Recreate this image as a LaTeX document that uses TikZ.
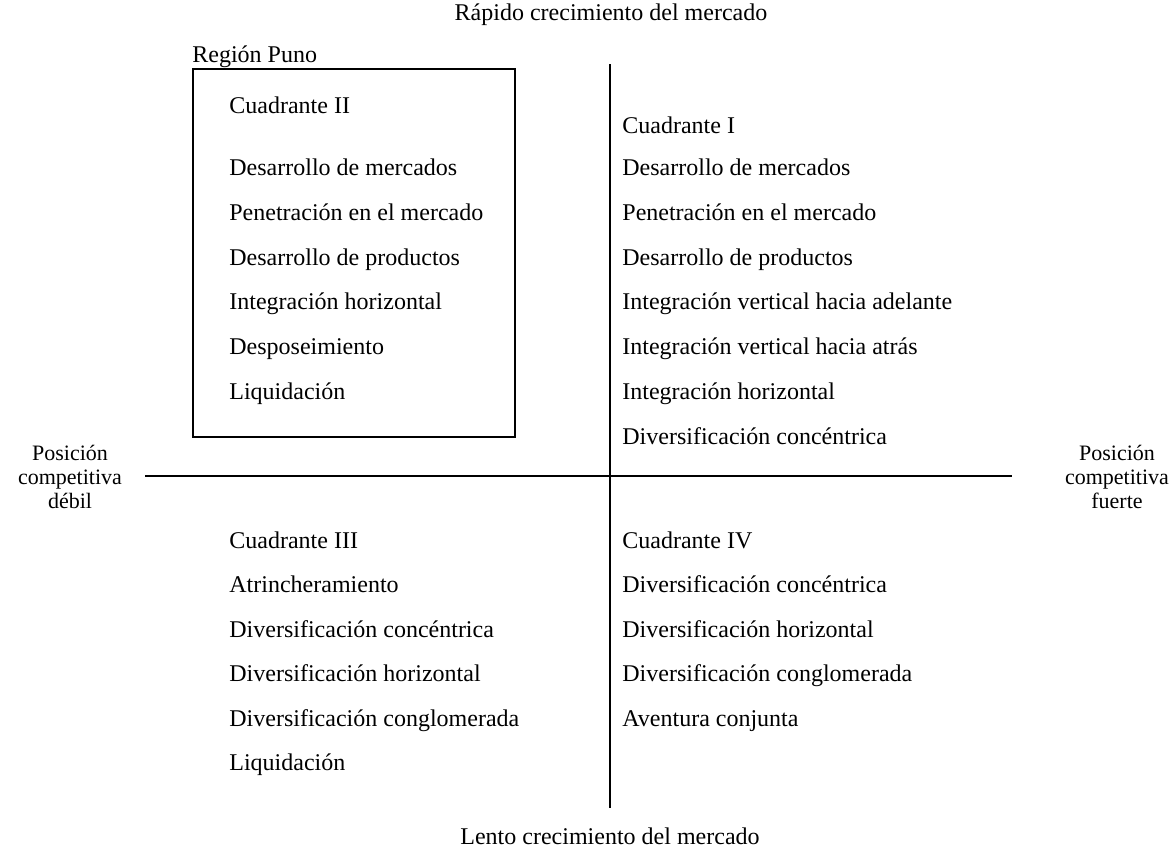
\documentclass[tikz,border=0pt]{standalone}
\usepackage{fontspec}
\setmainfont{Liberation Serif}
\usetikzlibrary{positioning}
\tikzset{item/.style = {anchor=mid west, inner sep=0pt, font=\fontsize{12}{14}\selectfont},
         axislabel/.style = {inner sep=0pt, align=center, font=\fontsize{12}{11.8}\selectfont},
         sidelabel/.style = {axislabel, font=\fontsize{11}{11.8}\selectfont},
         axis/.style = {line width=0.8pt}}

\begin{document}
\begin{tikzpicture}[x=0.5pt, y=-0.5pt]
    \useasboundingbox (0, 0) rectangle (1172, 851);
    \coordinate (top) at (610, 64);
    \coordinate (bottom) at (610, 808);
    \coordinate (west) at (145, 476);
    \coordinate (east) at (1012, 476);
    \draw [axis] (top) -- (bottom);
    \draw [axis] (west) -- (east);

    \node [axislabel] (rapido) at (611, 15) {Rápido crecimiento del mercado};
    \node [axislabel] (lento) at (610, 836) {Lento crecimiento del mercado};
    \node [sidelabel] (debil) at (70, 477) {Posición\\competitiva\\débil};
    \node [sidelabel] (fuerte) at (1117, 477) {Posición\\competitiva\\fuerte};

    \node [item] (puno) at (192, 58) {Región Puno};
    \coordinate (boxnw) at (193, 69);
    \coordinate (boxse) at (515, 437);
    \draw [line width=1pt] (boxnw) rectangle (boxse);

    \node [item] (cII) at (229, 109) {Cuadrante II};
    \foreach \txt [count=\i] in {Desarrollo de mercados, Penetración en el mercado,
        Desarrollo de productos, Integración horizontal, Desposeimiento, Liquidación}
      \node [item] (qII-\i) at (229, {171+44.8*(\i-1)}) {\txt};

    \node [item] (cI) at (622, 129) {Cuadrante I};
    \foreach \txt [count=\i] in {Desarrollo de mercados, Penetración en el mercado,
        Desarrollo de productos, Integración vertical hacia adelante,
        Integración vertical hacia atrás, Integración horizontal,
        Diversificación concéntrica}
      \node [item] (qI-\i) at (622, {171+44.8*(\i-1)}) {\txt};

    \foreach \txt [count=\i] in {Cuadrante III, Atrincheramiento, Diversificación concéntrica,
        Diversificación horizontal, Diversificación conglomerada, Liquidación}
      \node [item] (qIII-\i) at (229, {544+44.4*(\i-1)}) {\txt};

    \foreach \txt [count=\i] in {Cuadrante IV, Diversificación concéntrica,
        Diversificación horizontal, Diversificación conglomerada, Aventura conjunta}
      \node [item] (qIV-\i) at (622, {544+44.4*(\i-1)}) {\txt};
  \end{tikzpicture}
\end{document}
